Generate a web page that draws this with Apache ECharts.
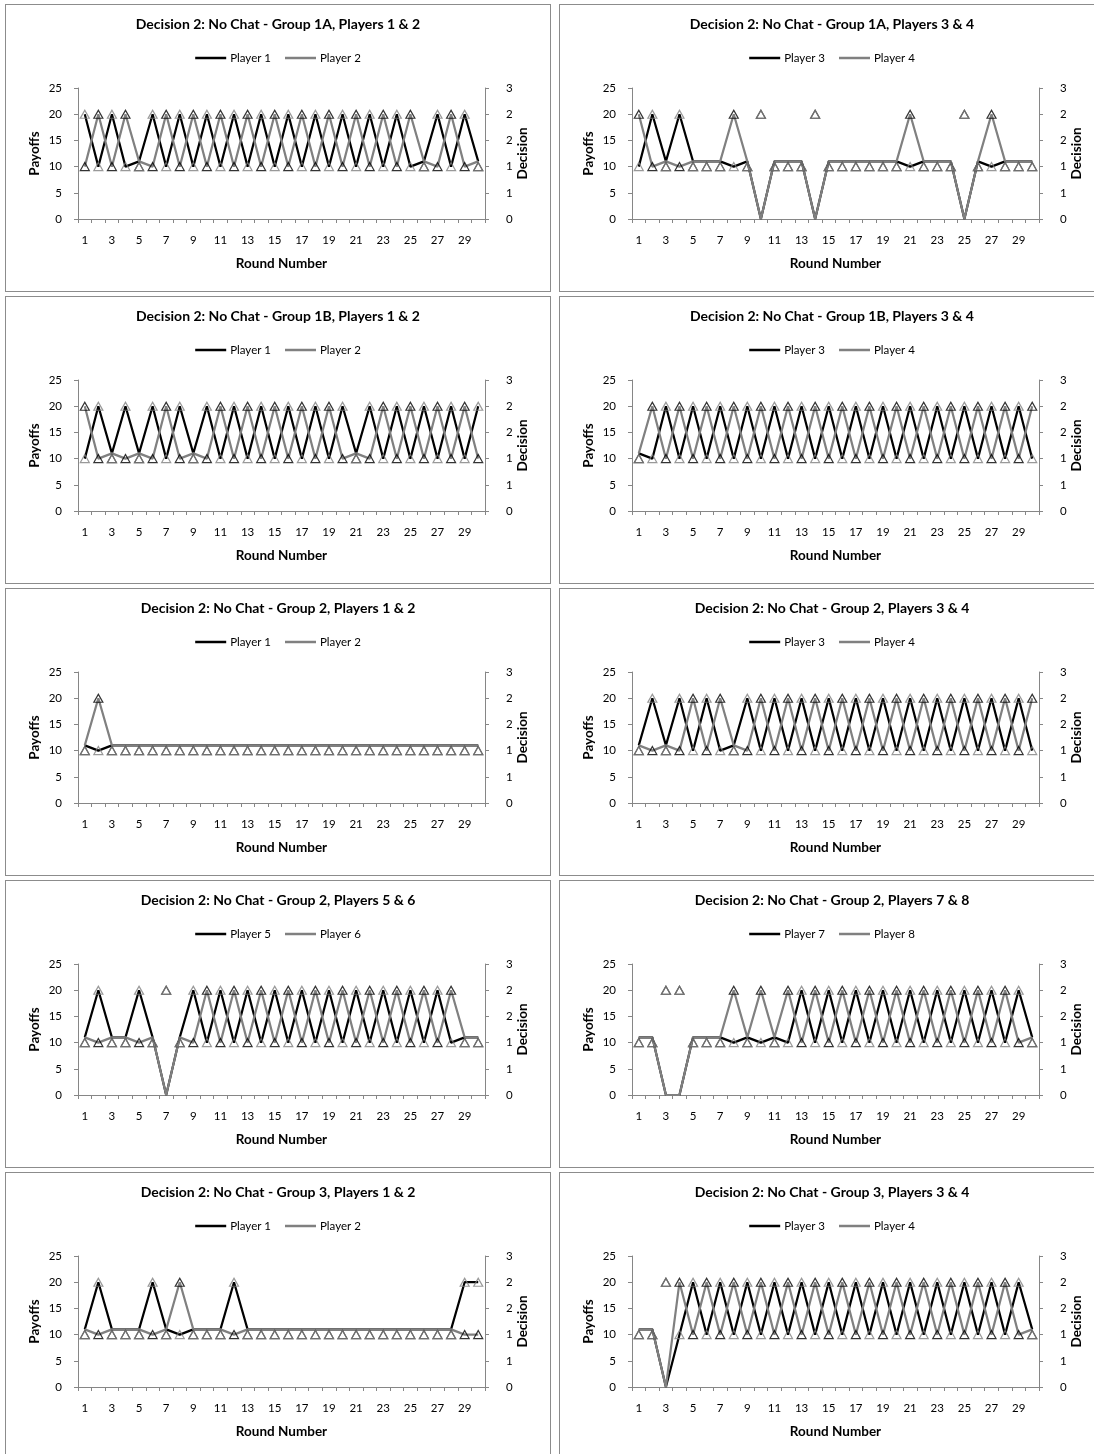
<!DOCTYPE html>
<html><head><meta charset="utf-8">
<script src="https://cdn.jsdelivr.net/npm/echarts/dist/echarts.min.js"></script>
<style>
html,body{margin:0;padding:0;background:#fff;overflow:hidden;width:1094px;height:1454px;position:relative;}
.panel{position:absolute;width:546px;height:288px;border:1px solid #8c8c8c;box-sizing:border-box;background:#fff;}
.panel .c{width:544px;height:286px;}
</style></head><body>
<script>
// ---- categories & ticks ----
const rounds = ["1","2","3","4","5","6","7","8","9","10","11","12","13","14","15","16","17","18","19","20","21","22","23","24","25","26","27","28","29","30"];
const payoffTicks = [0, 5, 10, 15, 20, 25];
const decisionTicks = [0, 0.5, 1, 1.5, 2, 2.5];

// ---- titles & player names ----
const titles = [
  "Decision 2: No Chat - Group 1A, Players 1 & 2",
  "Decision 2: No Chat - Group 1A, Players 3 & 4",
  "Decision 2: No Chat - Group 1B, Players 1 & 2",
  "Decision 2: No Chat - Group 1B, Players 3 & 4",
  "Decision 2: No Chat - Group 2, Players 1 & 2",
  "Decision 2: No Chat - Group 2, Players 3 & 4",
  "Decision 2: No Chat - Group 2, Players 5 & 6",
  "Decision 2: No Chat - Group 2, Players 7 & 8",
  "Decision 2: No Chat - Group 3, Players 1 & 2",
  "Decision 2: No Chat - Group 3, Players 3 & 4"
];
const namesA = ["Player 1","Player 3","Player 1","Player 3","Player 1","Player 3","Player 5","Player 7","Player 1","Player 3"];
const namesB = ["Player 2","Player 4","Player 2","Player 4","Player 2","Player 4","Player 6","Player 8","Player 2","Player 4"];

// ---- payoffs (black = first player, gray = second player) ----
const pay1A = [20,10,20,10,11,20,10,20,10,20,10,20,10,20,10,20,10,20,10,20,10,20,10,20,10,11,20,10,20,11];
const pay1B = [10,20,10,20,11,10,20,10,20,10,20,10,20,10,20,10,20,10,20,10,20,10,20,10,20,11,10,20,10,11];
const pay2A = [10,20,11,20,11,11,11,10,11,0,11,11,11,0,11,11,11,11,11,11,10,11,11,11,0,11,10,11,11,11];
const pay2B = [20,10,11,10,11,11,11,20,11,0,11,11,11,0,11,11,11,11,11,11,20,11,11,11,0,11,20,11,11,11];
const pay3A = [10,20,11,20,11,20,10,20,11,20,10,20,10,20,10,20,10,20,10,20,11,20,10,20,10,20,10,20,10,20];
const pay3B = [20,10,11,10,11,10,20,10,11,10,20,10,20,10,20,10,20,10,20,10,11,10,20,10,20,10,20,10,20,10];
const pay4A = [11,10,20,10,20,10,20,10,20,10,20,10,20,10,20,10,20,10,20,10,20,10,20,10,20,10,20,10,20,10];
const pay4B = [11,20,10,20,10,20,10,20,10,20,10,20,10,20,10,20,10,20,10,20,10,20,10,20,10,20,10,20,10,20];
const pay5A = [11,10,11,11,11,11,11,11,11,11,11,11,11,11,11,11,11,11,11,11,11,11,11,11,11,11,11,11,11,11];
const pay5B = [11,20,11,11,11,11,11,11,11,11,11,11,11,11,11,11,11,11,11,11,11,11,11,11,11,11,11,11,11,11];
const pay6A = [11,20,11,20,10,20,10,11,20,10,20,10,20,10,20,10,20,10,20,10,20,10,20,10,20,10,20,10,20,10];
const pay6B = [11,10,11,10,20,10,20,11,10,20,10,20,10,20,10,20,10,20,10,20,10,20,10,20,10,20,10,20,10,20];
const pay7A = [11,20,11,11,20,11,0,11,20,10,20,10,20,10,20,10,20,10,20,10,20,10,20,10,20,10,20,10,11,11];
const pay7B = [11,10,11,11,10,11,0,11,10,20,10,20,10,20,10,20,10,20,10,20,10,20,10,20,10,20,10,20,11,11];
const pay8A = [11,11,0,0,11,11,11,10,11,10,11,10,20,10,20,10,20,10,20,10,20,10,20,10,20,10,20,10,20,11];
const pay8B = [11,11,0,0,11,11,11,20,11,20,11,20,10,20,10,20,10,20,10,20,10,20,10,20,10,20,10,20,10,11];
const pay9A = [11,20,11,11,11,20,11,10,11,11,11,20,11,11,11,11,11,11,11,11,11,11,11,11,11,11,11,11,20,20];
const pay9B = [11,10,11,11,11,10,11,20,11,11,11,10,11,11,11,11,11,11,11,11,11,11,11,11,11,11,11,11,10,10];
const pay10A = [11,11,0,10,20,10,20,10,20,10,20,10,20,10,20,10,20,10,20,10,20,10,20,10,20,10,20,10,20,11];
const pay10B = [11,11,0,20,10,20,10,20,10,20,10,20,10,20,10,20,10,20,10,20,10,20,10,20,10,20,10,20,10,11];

// ---- decisions (triangles, right axis) ----
const dec1A = [1,2,1,2,1,1,2,1,2,1,2,1,2,1,2,1,2,1,2,1,2,1,2,1,2,1,1,2,1,1];
const dec1B = [2,1,2,1,1,2,1,2,1,2,1,2,1,2,1,2,1,2,1,2,1,2,1,2,1,1,2,1,2,1];
const dec2A = [2,1,1,1,1,1,1,2,1,2,1,1,1,2,1,1,1,1,1,1,2,1,1,1,2,1,2,1,1,1];
const dec2B = [1,2,1,2,1,1,1,1,1,2,1,1,1,2,1,1,1,1,1,1,1,1,1,1,2,1,1,1,1,1];
const dec3A = [2,1,1,1,1,1,2,1,1,1,2,1,2,1,2,1,2,1,2,1,1,1,2,1,2,1,2,1,2,1];
const dec3B = [1,2,1,2,1,2,1,2,1,2,1,2,1,2,1,2,1,2,1,2,1,2,1,2,1,2,1,2,1,2];
const dec4A = [1,2,1,2,1,2,1,2,1,2,1,2,1,2,1,2,1,2,1,2,1,2,1,2,1,2,1,2,1,2];
const dec4B = [1,1,2,1,2,1,2,1,2,1,2,1,2,1,2,1,2,1,2,1,2,1,2,1,2,1,2,1,2,1];
const dec5A = [1,2,1,1,1,1,1,1,1,1,1,1,1,1,1,1,1,1,1,1,1,1,1,1,1,1,1,1,1,1];
const dec5B = [1,1,1,1,1,1,1,1,1,1,1,1,1,1,1,1,1,1,1,1,1,1,1,1,1,1,1,1,1,1];
const dec6A = [1,1,1,1,2,1,2,1,1,2,1,2,1,2,1,2,1,2,1,2,1,2,1,2,1,2,1,2,1,2];
const dec6B = [1,2,1,2,1,2,1,1,2,1,2,1,2,1,2,1,2,1,2,1,2,1,2,1,2,1,2,1,2,1];
const dec7A = [1,1,1,1,1,1,2,1,1,2,1,2,1,2,1,2,1,2,1,2,1,2,1,2,1,2,1,2,1,1];
const dec7B = [1,2,1,1,2,1,2,1,2,1,2,1,2,1,2,1,2,1,2,1,2,1,2,1,2,1,2,1,1,1];
const dec8A = [1,1,2,2,1,1,1,2,1,2,1,2,1,2,1,2,1,2,1,2,1,2,1,2,1,2,1,2,1,1];
const dec8B = [1,1,2,2,1,1,1,1,1,1,1,1,2,1,2,1,2,1,2,1,2,1,2,1,2,1,2,1,2,1];
const dec9A = [1,1,1,1,1,1,1,2,1,1,1,1,1,1,1,1,1,1,1,1,1,1,1,1,1,1,1,1,1,1];
const dec9B = [1,2,1,1,1,2,1,1,1,1,1,2,1,1,1,1,1,1,1,1,1,1,1,1,1,1,1,1,2,2];
const dec10A = [1,1,2,2,1,2,1,2,1,2,1,2,1,2,1,2,1,2,1,2,1,2,1,2,1,2,1,2,1,1];
const dec10B = [1,1,2,1,2,1,2,1,2,1,2,1,2,1,2,1,2,1,2,1,2,1,2,1,2,1,2,1,2,1];

const payA = [pay1A,pay2A,pay3A,pay4A,pay5A,pay6A,pay7A,pay8A,pay9A,pay10A];
const payB = [pay1B,pay2B,pay3B,pay4B,pay5B,pay6B,pay7B,pay8B,pay9B,pay10B];
const decA = [dec1A,dec2A,dec3A,dec4A,dec5A,dec6A,dec7A,dec8A,dec9A,dec10A];
const decB = [dec1B,dec2B,dec3B,dec4B,dec5B,dec6B,dec7B,dec8B,dec9B,dec10B];

const FONT = "Lato, 'Open Sans', sans-serif";
const AXIS_GRAY = '#868686';
const BLACK = '#000000';
const GRAY = '#808080';

for (let i = 0; i < 10; i++) {
  const col = i % 2, row = Math.floor(i / 2);
  const panel = document.createElement('div');
  panel.className = 'panel';
  panel.style.left = (5 + col * 554) + 'px';
  panel.style.top = (4 + row * 292) + 'px';
  const c = document.createElement('div');
  c.className = 'c';
  panel.appendChild(c);
  document.body.appendChild(panel);
  const chart = echarts.init(c, null, {renderer: 'canvas'});
  const opt = {
    animation: false,
    textStyle: {fontFamily: FONT},
    title: {
      text: titles[i], left: 'center', top: 12, padding: 0,
      textStyle: {fontFamily: FONT, fontSize: 14, fontWeight: 'bold', color: '#000'}
    },
    legend: {
      data: [namesA[i], namesB[i]], top: 47, left: 'center', padding: 0,
      icon: 'rect', itemWidth: 31, itemHeight: 2.5, itemGap: 14,
      textStyle: {fontFamily: FONT, fontSize: 11.5, color: '#000', padding: [0,0,0,-1]}
    },
    grid: {left: 72, top: 83, width: 407, height: 131},
    xAxis: {
      type: 'category', data: rounds, boundaryGap: true,
      name: 'Round Number', nameLocation: 'middle', nameGap: 38, nameMoveOverlap: false,
      nameTextStyle: {fontFamily: FONT, fontSize: 13.5, fontWeight: 'bold', color: '#000'},
      axisLine: {lineStyle: {color: AXIS_GRAY, width: 1}},
      axisTick: {show: true, interval: 0, alignWithLabel: false, length: 4, lineStyle: {color: AXIS_GRAY}},
      axisLabel: {interval: 1, margin: 15, fontFamily: FONT, fontSize: 11.5, color: '#000'},
      splitLine: {show: false}
    },
    yAxis: [
      {
        type: 'value', position: 'left', min: payoffTicks[0], max: payoffTicks[payoffTicks.length-1], interval: 5,
        name: 'Payoffs', nameLocation: 'middle', nameGap: 36, nameRotate: 90, nameMoveOverlap: false,
        nameTextStyle: {fontFamily: FONT, fontSize: 13.5, fontWeight: 'bold', color: '#000'},
        axisLine: {show: true, lineStyle: {color: AXIS_GRAY, width: 1}},
        axisTick: {show: true, length: 4, lineStyle: {color: AXIS_GRAY}},
        axisLabel: {margin: 16, fontFamily: FONT, fontSize: 11.5, color: '#000'},
        splitLine: {show: false}
      },
      {
        type: 'value', position: 'right', min: decisionTicks[0], max: decisionTicks[decisionTicks.length-1], interval: 0.5,
        name: 'Decision', nameLocation: 'middle', nameGap: 31, nameRotate: 90, nameMoveOverlap: false,
        nameTextStyle: {fontFamily: FONT, fontSize: 13.5, fontWeight: 'bold', color: '#000'},
        axisLine: {show: true, lineStyle: {color: AXIS_GRAY, width: 1}},
        axisTick: {show: true, length: 4, lineStyle: {color: AXIS_GRAY}},
        axisLabel: {margin: 21, fontFamily: FONT, fontSize: 11.5, color: '#000',
          formatter: v => String(Math.round(v))},
        splitLine: {show: false}
      }
    ],
    series: [
      {name: namesA[i], type: 'line', yAxisIndex: 0, data: payA[i], symbol: 'none',
       lineStyle: {color: BLACK, width: 2.2}, itemStyle: {color: BLACK}, z: 2},
      {name: namesB[i], type: 'line', yAxisIndex: 0, data: payB[i], symbol: 'none',
       lineStyle: {color: GRAY, width: 2.2}, itemStyle: {color: GRAY}, z: 3},
      {name: namesA[i] + ' decision', type: 'scatter', yAxisIndex: 1, data: decA[i],
       symbol: 'triangle', symbolSize: [9, 8],
       itemStyle: {color: 'rgba(255,255,255,0)', borderColor: BLACK, borderWidth: 1.2}, z: 4},
      {name: namesB[i] + ' decision', type: 'scatter', yAxisIndex: 1, data: decB[i],
       symbol: 'triangle', symbolSize: [9, 8],
       itemStyle: {color: 'rgba(255,255,255,0)', borderColor: GRAY, borderWidth: 1.2}, z: 5}
    ]
  };
  chart.setOption(opt);
}
</script>
</body></html>
